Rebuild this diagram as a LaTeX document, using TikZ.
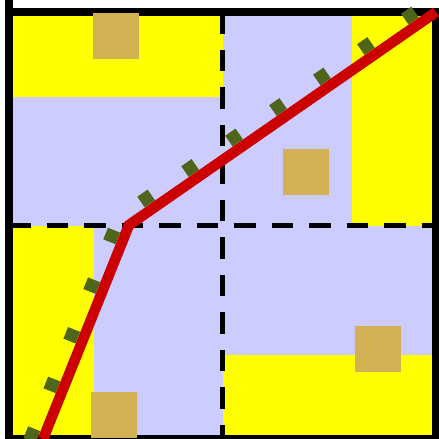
\documentclass[tikz,border=0pt]{standalone}
\usetikzlibrary{calc}
\definecolor{lav}{RGB}{204,204,255}
\definecolor{yel}{RGB}{255,255,0}
\definecolor{tanc}{RGB}{210,176,84}
\definecolor{grn}{RGB}{77,102,26}
\definecolor{redc}{RGB}{204,0,0}
\begin{document}
\begin{tikzpicture}[x=1pt,y=-1pt,
  tanbox/.style={rectangle,fill=tanc,draw=none,minimum size=46pt,inner sep=0pt},
  greenmark/.style={rectangle,fill=grn,draw=none,minimum width=12.5pt,minimum height=13pt,inner sep=0pt},
  gridline/.style={line width=5.5pt,dash pattern=on 21.5pt off 16pt},
  frameline/.style={line width=8pt},
  redline/.style={line width=10.5pt,draw=redc}]
\path[use as bounding box] (0,0) rectangle (439,439);
\clip (0,0) rectangle (439,439);
% quadrant fills (pinwheel)
\fill[yel] (9,12) rectangle (222.5,97);
\fill[lav] (9,97) rectangle (222.5,225.5);
\fill[lav] (222.5,12) rectangle (352,225.5);
\fill[yel] (352,12) rectangle (436,225.5);
\fill[yel] (9,225.5) rectangle (94,439);
\fill[lav] (94,225.5) rectangle (222.5,439);
\fill[lav] (222.5,225.5) rectangle (436,355);
\fill[yel] (222.5,355) rectangle (436,439);
% frame
\draw[frameline] (9,12) rectangle (436,439);
\draw[frameline] (9,0) -- (9,12);
% dashed cross
\coordinate (hl) at (9,225.5);
\coordinate (hr) at (436,225.5);
\coordinate (vt) at (222.5,12);
\coordinate (vb) at (222.5,439);
\draw[gridline] (hl) -- (hr);
\draw[gridline] (vt) -- (vb);
% tan squares
\node[tanbox] (t1) at (116,36) {};
\node[tanbox] (t2) at (306,172) {};
\node[tanbox] (t3) at (114,415) {};
\node[tanbox] (t4) at (378,349) {};
% path
\coordinate (s) at (43,439);
\coordinate (k) at (129,225);
\coordinate (e) at (436,12);
\foreach \d [count=\i] in {0,53.5,107,160.5,214}
  \node[greenmark,rotate=68.1] (gl\i) at ($(s)!\d pt!(k)!12pt!90:(k)$) {};
\foreach \d [count=\i] in {29.2,82.7,136.2,189.7,243.2,296.7,350.2}
  \node[greenmark,rotate=34.76] (gu\i) at ($(k)!\d pt!(e)!12pt!90:(e)$) {};
\draw[redline] (s) -- (k) -- (e);
\end{tikzpicture}
\end{document}
